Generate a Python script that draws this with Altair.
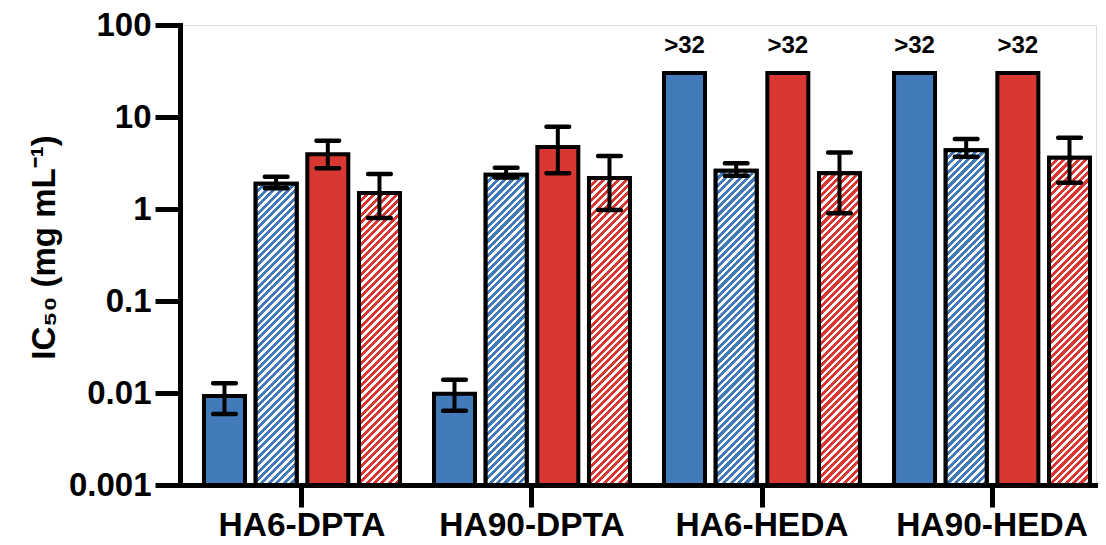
import math
import altair as alt
import pandas as pd

# ---------------- data ----------------
groups = ["HA6-DPTA", "HA90-DPTA", "HA6-HEDA", "HA90-HEDA"]
series = ["blue_solid", "blue_hatched", "red_solid", "red_hatched"]
hatched_series = ["blue_hatched", "red_hatched"]

blue_solid = [0.0093, 0.0098, 30, 30]
blue_solid_lo = [0.0059, 0.0064, None, None]
blue_solid_hi = [0.0128, 0.0139, None, None]

blue_hatched = [1.88, 2.36, 2.6, 4.35]
blue_hatched_lo = [1.68, 2.2, 2.3, 3.7]
blue_hatched_hi = [2.24, 2.81, 3.15, 5.77]

red_solid = [3.93, 4.72, 30, 30]
red_solid_lo = [2.77, 2.45, None, None]
red_solid_hi = [5.52, 7.85, None, None]

red_hatched = [1.49, 2.17, 2.45, 3.61]
red_hatched_lo = [0.8, 0.975, 0.9, 1.93]
red_hatched_hi = [2.4, 3.77, 4.1, 5.96]

over_labels = {"blue_solid": [None, None, ">32", ">32"],
               "red_solid": [None, None, ">32", ">32"]}

y_ticks = [0.001, 0.01, 0.1, 1, 10, 100]

BLUE = "#437ABA"
RED = "#D83831"

# ---------------- table ----------------
vals = {"blue_solid": (blue_solid, blue_solid_lo, blue_solid_hi),
        "blue_hatched": (blue_hatched, blue_hatched_lo, blue_hatched_hi),
        "red_solid": (red_solid, red_solid_lo, red_solid_hi),
        "red_hatched": (red_hatched, red_hatched_lo, red_hatched_hi)}
rows = []
rid = 0
for gi, g in enumerate(groups):
    for s in series:
        v, lo, hi = vals[s]
        lab = over_labels.get(s, [None] * 4)[gi]
        rows.append({"id": rid, "group": g, "series": s, "value": v[gi],
                     "lo": lo[gi], "hi": hi[gi], "base": 0.001,
                     "label": lab if lab else ""})
        rid += 1
df = pd.DataFrame(rows)

# ---------------- layout constants ----------------
W, H = 916, 460
BAR_W = 41.0
DECADES = 5.0


def hatch(color, value, period=7.4, frac=0.56):
    h = H * (math.log10(value) + 3) / DECADES
    w = BAR_W
    L = w + h
    n = L / period
    a = w * L / (w * w + h * h)
    b = h * L / (w * w + h * h)
    stops = []
    k = 0
    while k < n:
        o0 = round(k / n, 5)
        o1 = round(min((k + frac) / n, 1.0), 5)
        o2 = round(min((k + 1) / n, 1.0), 5)
        stops += [alt.GradientStop(offset=o0, color=color),
                  alt.GradientStop(offset=o1, color=color),
                  alt.GradientStop(offset=o1, color="white"),
                  alt.GradientStop(offset=o2, color="white")]
        k += 1
    return alt.LinearGradient(gradient="linear", stops=stops,
                              x1=0, y1=0, x2=round(a, 5), y2=round(b, 5))


FONT = "Liberation Sans"

x_enc = alt.X("group:N", sort=groups,
              scale=alt.Scale(paddingInner=0.148, paddingOuter=0.0652, align=0.8),
              axis=alt.Axis(title=None, labelAngle=0, labelFont=FONT, labelFontSize=33.5,
                            labelFontWeight="bold", labelColor="black", labelPadding=2,
                            labelLimit=0,
                            tickSize=22, tickWidth=5, tickColor="black",
                            domainWidth=5, domainColor="black", domainCap="square",
                            bandPosition=0.5, grid=False))
xo_enc = alt.XOffset("series:N", sort=series,
                     scale=alt.Scale(paddingInner=0.2065, paddingOuter=0))
y_scale = alt.Scale(type="log", domain=[0.001, 100])
y_axis = alt.Axis(values=y_ticks, format="~g", labelFont=FONT, labelFontSize=33,
                  labelFontWeight="bold", labelColor="black", labelPadding=4,
                  labelFlush=False, labelOverlap=False,
                  tickSize=25, tickWidth=5, tickColor="black",
                  domainWidth=5, domainColor="black", domainCap="square", grid=False,
                  title="IC₅₀ (mg mL⁻¹)", titleFont=FONT, titleFontSize=33,
                  titleFontWeight="bold", titleColor="black", titleAngle=270,
                  titleX=-126, titleY=222, titleAlign="center",
                  titleBaseline="alphabetic")

base = alt.Chart(df)

bars = base.mark_bar(stroke="black", strokeWidth=4).encode(
    x=x_enc, xOffset=xo_enc,
    y=alt.Y("value:Q", scale=y_scale, axis=y_axis),
    y2=alt.Y2("base:Q"),
    color=alt.Color("series:N", scale=alt.Scale(domain=series,
                                                range=[BLUE, BLUE, RED, RED]),
                    legend=None),
)

layers = [bars]
for r in rows:
    if r["series"] in hatched_series:
        col = BLUE if r["series"].startswith("blue") else RED
        layers.append(
            base.transform_filter(f"datum.id == {r['id']}").mark_bar(
                fill=hatch(col, r["value"]), stroke="black", strokeWidth=4
            ).encode(x=x_enc, xOffset=xo_enc,
                     y=alt.Y("value:Q", scale=y_scale, axis=y_axis),
                     y2=alt.Y2("base:Q"))
        )

err = base.transform_filter("isValid(datum.lo)")
layers.append(err.mark_rule(strokeWidth=4, color="black").encode(
    x=x_enc, xOffset=xo_enc,
    y=alt.Y("lo:Q", scale=y_scale, axis=y_axis), y2=alt.Y2("hi:Q")))
for fld in ["lo", "hi"]:
    layers.append(err.mark_tick(orient="horizontal", size=27, thickness=4.5,
                                cornerRadius=2, color="black", opacity=1).encode(
        x=x_enc, xOffset=xo_enc,
        y=alt.Y(f"{fld}:Q", scale=y_scale, axis=y_axis)))

layers.append(base.transform_filter("datum.label != ''").mark_text(
    font=FONT, fontSize=24, fontWeight="bold", color="black",
    baseline="alphabetic", dy=-20).encode(
    x=x_enc, xOffset=xo_enc,
    y=alt.Y("value:Q", scale=y_scale, axis=y_axis), text="label:N"))

chart = alt.layer(*layers).properties(
    width=W, height=H,
    autosize=alt.AutoSizeParams(type="none"),
    padding={"left": 172, "top": 17, "right": 2, "bottom": 60},
).configure_view(stroke=None).configure(background="white")

chart.save("out.html", embed_options={"renderer": "svg", "actions": False})
